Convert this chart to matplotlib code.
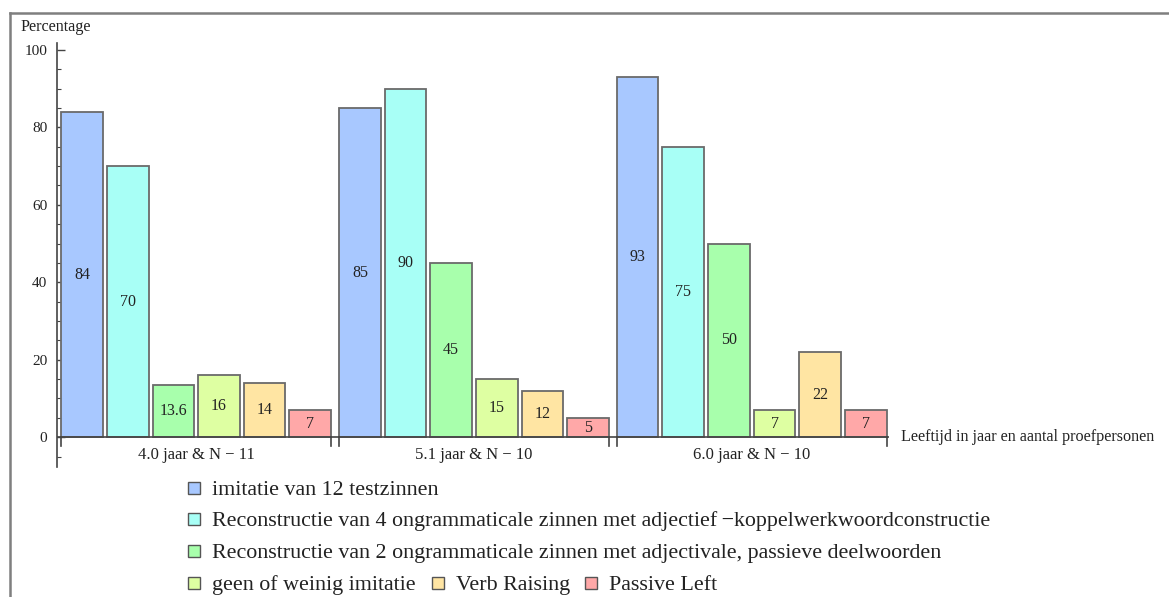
import matplotlib
matplotlib.use("Agg")
import matplotlib.pyplot as plt
from matplotlib.patches import Rectangle
from matplotlib.lines import Line2D
import numpy as np

plt.rcParams['font.family'] = ['Liberation Serif', 'DejaVu Serif']

groups = ["4.0 jaar & N \u2212 11", "5.1 jaar & N \u2212 10", "6.0 jaar & N \u2212 10"]
series = [
    "imitatie van 12 testzinnen",
    "Reconstructie van 4 ongrammaticale zinnen met adjectief\u2009\u2212koppelwerkwoordconstructie",
    "Reconstructie van 2 ongrammaticale zinnen met adjectivale, passieve deelwoorden",
    "geen of weinig imitatie",
    "Verb Raising",
    "Passive Left",
]
values = [
    [84, 85, 93],
    [70, 90, 75],
    [13.6, 45, 50],
    [16, 15, 7],
    [14, 12, 22],
    [7, 5, 7],
]
value_labels = [
    ["84", "85", "93"],
    ["70", "90", "75"],
    ["13.6", "45", "50"],
    ["16", "15", "7"],
    ["14", "12", "22"],
    ["7", "5", "7"],
]
colors = ["#A8C8FF", "#A8FFF6", "#A8FFAC", "#DEFFA2", "#FFE5A3", "#FFA8A8"]

W, H = 1169, 597
fig = plt.figure(figsize=(W / 100, H / 100), dpi=100)

# axes placement in pixels
ax_left, ax_right = 57, 889
ax_top, ax_bottom = 43, 467
ax = fig.add_axes([ax_left / W, 1 - ax_bottom / H, (ax_right - ax_left) / W, (ax_bottom - ax_top) / H])

n_series = len(series)
group_step = n_series + 0.09
bar_w = 0.912

for i in range(n_series):
    xs = np.arange(len(groups)) * group_step + i
    ax.bar(xs, values[i], width=bar_w, color=colors[i], edgecolor="#6a6a6a", linewidth=1.3, zorder=2)
    for x, v, lab in zip(xs, values[i], value_labels[i]):
        ax.text(x, v / 2, lab, ha="center", va="center", fontsize=11.5, color="#222222", zorder=3)

ax.set_xlim(-0.55, (len(groups) - 1) * group_step + n_series - 1 + 0.46 + 0.05)
ax.set_ylim(-7.7, 101.8)

for s in ["top", "right", "bottom"]:
    ax.spines[s].set_visible(False)
ax.spines["left"].set_color("#444444")
ax.spines["left"].set_linewidth(1.2)

# x axis line at y=0
ax.axhline(0, color="#444444", linewidth=1.2, zorder=4)

# y ticks
ax.set_yticks([0, 20, 40, 60, 80, 100])
ax.set_yticks(np.arange(-5, 101, 5), minor=True)
ax.tick_params(axis="y", which="major", direction="in", length=6, width=1, colors="#444444",
               labelsize=11, labelcolor="#222222", pad=7)
ax.tick_params(axis="y", which="minor", direction="in", length=3, width=0.8, colors="#444444")
ax.set_xticks([])

# group boundary ticks and labels
for g, name in enumerate(groups):
    x0 = g * group_step - bar_w / 2
    x1 = g * group_step + n_series - 1 + bar_w / 2
    for xb in (x0, x1):
        ax.plot([xb, xb], [0, -2.4], color="#444444", linewidth=1.2, clip_on=False, zorder=4)
    ax.text((x0 + x1) / 2, -2.6, name, ha="center", va="top", fontsize=12, color="#222222")

ax.text(1.0 + 12 / (ax_right - ax_left), 0, "Leeftijd in jaar en aantal proefpersonen",
        transform=ax.get_yaxis_transform(), ha="left", va="center", fontsize=11.6, color="#222222")
fig.text(20 / W, 1 - 27 / H, "Percentage", ha="left", va="center", fontsize=11.6, color="#222222")

# frame lines
fig.add_artist(Line2D([10 / W, 1.0], [1 - 13 / H, 1 - 13 / H], color="#7f7f7f", linewidth=1.8))
fig.add_artist(Line2D([10 / W, 10 / W], [1 - 13 / H, 0], color="#7f7f7f", linewidth=1.8))

# legend (manual layout)
def legend_item(idx, x_px, y_px):
    sq = 12
    fig.add_artist(Rectangle(((x_px) / W, 1 - (y_px + sq / 2) / H), sq / W, sq / H,
                             facecolor=colors[idx], edgecolor="#555555", linewidth=1.0,
                             transform=fig.transFigure))
    fig.text((x_px + 24) / W, 1 - y_px / H, series[idx], ha="left", va="center_baseline",
             fontsize=15.8, color="#222222")

legend_item(0, 188, 488)
legend_item(1, 188, 519)
legend_item(2, 188, 551)
legend_item(3, 188, 583)
legend_item(4, 432, 583)
legend_item(5, 585, 583)

fig.savefig("out.png", dpi=100, facecolor="white")
